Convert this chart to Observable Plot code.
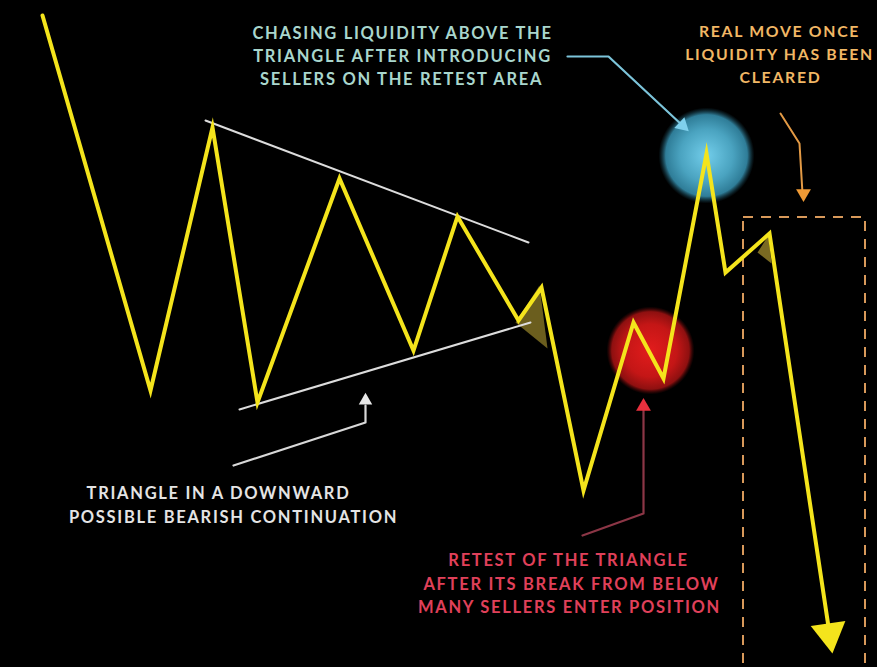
<!DOCTYPE html>
<html><head><meta charset="utf-8">
<script src="https://cdn.jsdelivr.net/npm/d3@7"></script>
<script src="https://cdn.jsdelivr.net/npm/@observablehq/plot@0.6"></script>
<style>html,body{margin:0;padding:0;background:#000;overflow:hidden}</style>
</head><body><div id="chart"></div>
<script>
// Price path (time index, price level)
const pathTime  = [42, 150, 212, 257, 339, 413, 457, 518, 541, 583, 633, 663, 706, 725, 769, 829];
const pathPrice = [652, 277, 540, 265, 489, 317, 451, 347, 380, 177, 345, 289, 514, 395, 434, 34];

// Triangle trendlines
const upperTime = [205, 528], upperPrice = [547, 425];
const lowerTime = [239, 530], lowerPrice = [258, 345];

// Breakout shading
const shade1Time = [515, 539, 547], shade1Price = [345, 382, 319];
const shade2Time = [757, 768, 771], shade2Price = [415, 432, 404];

// Highlight zones
const liquidityTime = [706], liquidityPrice = [512];
const retestTime = [650], retestPrice = [317];

// Real-move box
const boxTime = [743, 865], boxPrice = [450, -20];

// Annotation pointers
const whitePtrTime = [233, 365, 365], whitePtrPrice = [202, 245, 262];
const bluePtrTime = [567, 608, 682], bluePtrPrice = [611, 611, 542];
const redPtrTime = [582, 643, 643], redPtrPrice = [132, 154, 258];
const orangePtrTime = [780, 799, 802], orangePtrPrice = [554, 524, 474];

// Labels
const blueLines = ["CHASING LIQUIDITY ABOVE THE", "TRIANGLE AFTER INTRODUCING", "SELLERS ON THE RETEST AREA"];
const blueX = [402, 402, 401], blueY = [634, 611, 588];
const orangeLines = ["REAL MOVE ONCE", "LIQUIDITY HAS BEEN", "CLEARED"];
const orangeX = [779, 779, 780], orangeY = [636, 613, 590];
const whiteLines = ["TRIANGLE IN A DOWNWARD", "POSSIBLE BEARISH CONTINUATION"];
const whiteX = [218, 233], whiteY = [174, 150];
const redLines = ["RETEST OF THE TRIANGLE", "AFTER ITS BREAK FROM BELOW", "MANY SELLERS ENTER POSITION"];
const redX = [568, 571, 569], redY = [107, 83, 60];

const zip = (xs, ys, extra = {}) => xs.map((x, i) => ({x, y: ys[i], ...Object.fromEntries(Object.entries(extra).map(([k, v]) => [k, v[i]]))}));

const path = zip(pathTime, pathPrice);
const font = {fontFamily: "Lato, 'Open Sans', sans-serif", fontWeight: 700, fontSize: 16.5};

const chart = Plot.plot({
  width: 877, height: 667,
  marginTop: 0, marginRight: 0, marginBottom: 0, marginLeft: 0,
  x: {domain: [0, 877], axis: null},
  y: {domain: [0, 667], axis: null},
  style: {background: "#000", letterSpacing: "1.7px"},
  marks: [
    Plot.dot(zip(liquidityTime, liquidityPrice), {x: "x", y: "y", r: 48, fill: "url(#gBlue)", stroke: "none"}),
    Plot.dot(zip(retestTime, retestPrice), {x: "x", y: "y", r: 44, fill: "url(#gRed)", stroke: "none"}),
    Plot.rect([{x1: boxTime[0], x2: boxTime[1], y1: boxPrice[1], y2: boxPrice[0]}], {x1: "x1", x2: "x2", y1: "y1", y2: "y2",
      fill: "none", stroke: "#d8995a", strokeWidth: 2, strokeDasharray: "10,8"}),
    Plot.line(zip(shade1Time, shade1Price), {x: "x", y: "y", fill: "#6b5e1e", stroke: "none"}),
    Plot.line(zip(shade2Time, shade2Price), {x: "x", y: "y", fill: "#7a6a22", stroke: "none"}),
    Plot.line(zip(upperTime, upperPrice), {x: "x", y: "y", stroke: "#dcdcdc", strokeWidth: 2}),
    Plot.line(zip(lowerTime, lowerPrice), {x: "x", y: "y", stroke: "#dcdcdc", strokeWidth: 2}),
    Plot.line(path, {x: "x", y: "y", stroke: "#f4e41c", strokeWidth: 4, strokeLinejoin: "miter", strokeMiterlimit: 12}),
    Plot.dot([path[path.length - 1]], {x: "x", y: "y", symbol: "triangle", r: 13, rotate: 171.7, fill: "#f4e41c", stroke: "none"}),
    // pointers
    Plot.line(zip(whitePtrTime, whitePtrPrice), {x: "x", y: "y", stroke: "#d8d8d8", strokeWidth: 2.2}),
    Plot.dot([{x: whitePtrTime[2], y: whitePtrPrice[2] + 5}], {x: "x", y: "y", symbol: "triangle", r: 5, fill: "#e8e8e8", stroke: "none"}),
    Plot.line(zip(bluePtrTime, bluePtrPrice), {x: "x", y: "y", stroke: "#7cc4da", strokeWidth: 2.2}),
    Plot.dot([{x: bluePtrTime[2], y: bluePtrPrice[2]}], {x: "x", y: "y", symbol: "triangle", r: 5.5, rotate: 132.8, fill: "#7fd0ec", stroke: "none"}),
    Plot.line(zip(redPtrTime, redPtrPrice), {x: "x", y: "y", stroke: "#8c3646", strokeWidth: 2.2}),
    Plot.dot([{x: redPtrTime[2], y: redPtrPrice[2] + 3}], {x: "x", y: "y", symbol: "triangle", r: 5.5, fill: "#e8303e", stroke: "none"}),
    Plot.line(zip(orangePtrTime, orangePtrPrice), {x: "x", y: "y", stroke: "#e39a45", strokeWidth: 2}),
    Plot.dot([{x: orangePtrTime[2] + 1, y: orangePtrPrice[2]}], {x: "x", y: "y", symbol: "triangle", r: 5.5, rotate: 180, fill: "#ef9a35", stroke: "none"}),
    // labels
    Plot.text(zip(blueX, blueY, {t: blueLines}), {x: "x", y: "y", text: "t", fill: "#a9d6cd", ...font}),
    Plot.text(zip(orangeX, orangeY, {t: orangeLines}), {x: "x", y: "y", text: "t", fill: "#f1b765", ...font, fontSize: 15.8}),
    Plot.text(zip(whiteX, whiteY, {t: whiteLines}), {x: "x", y: "y", text: "t", fill: "#e4e4e4", ...font}),
    Plot.text(zip(redX, redY, {t: redLines}), {x: "x", y: "y", text: "t", fill: "#e0405a", ...font})
  ]
});

d3.select(chart).insert("defs", ":first-child").html(`
  <radialGradient id="gBlue">
    <stop offset="0%" stop-color="#72cdea"/>
    <stop offset="55%" stop-color="#4aa3c0"/>
    <stop offset="85%" stop-color="#2f7d98"/>
    <stop offset="100%" stop-color="#1a4a5a" stop-opacity="0"/>
  </radialGradient>
  <radialGradient id="gRed">
    <stop offset="0%" stop-color="#e21c1c"/>
    <stop offset="60%" stop-color="#c41616"/>
    <stop offset="88%" stop-color="#8e1010"/>
    <stop offset="100%" stop-color="#500808" stop-opacity="0"/>
  </radialGradient>`);

document.getElementById("chart").appendChild(chart);
</script>
</body></html>
